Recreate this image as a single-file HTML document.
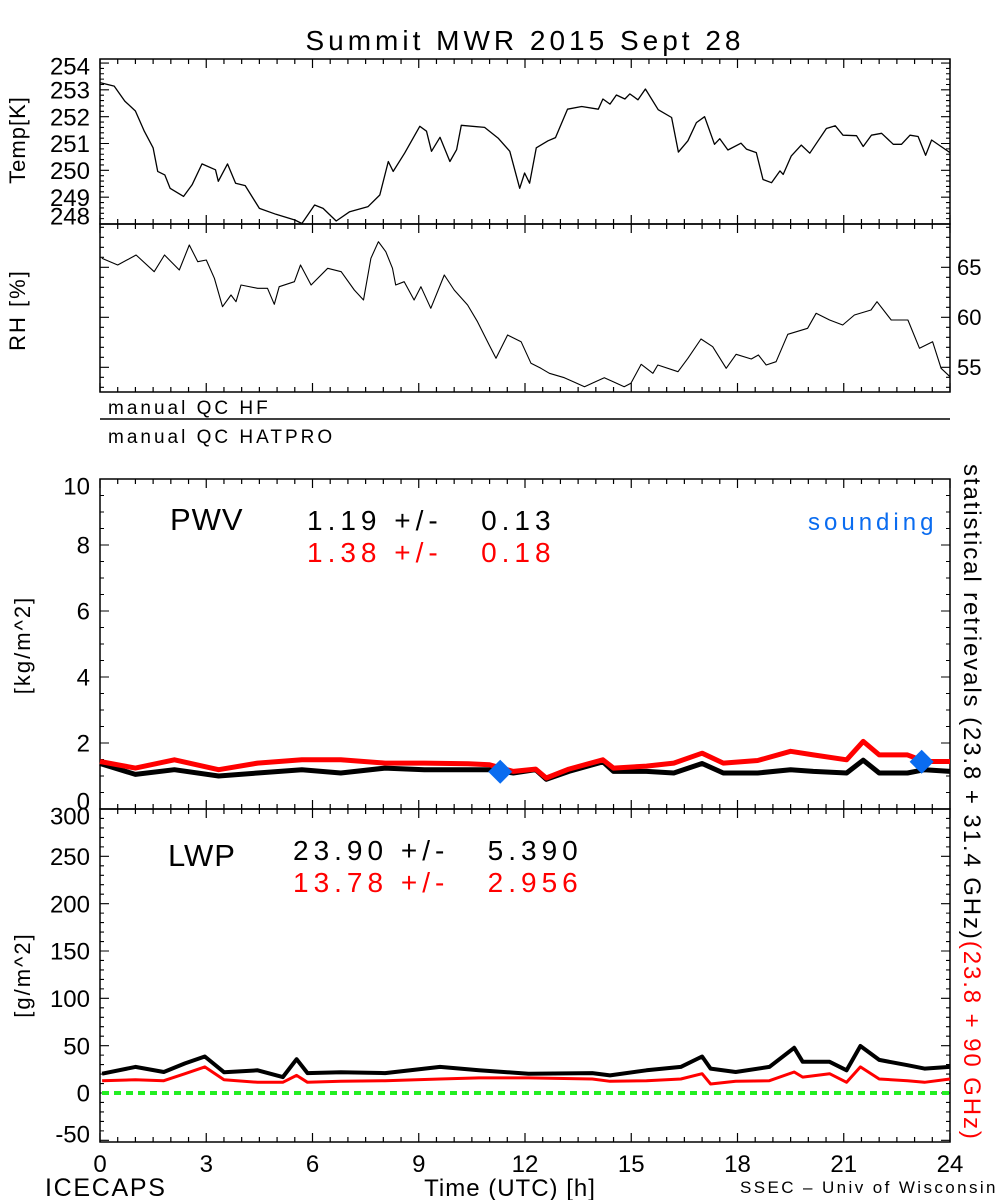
<!DOCTYPE html>
<html><head><meta charset="utf-8"><style>
html,body{margin:0;padding:0;background:#fff;}
svg{display:block;font-family:"Liberation Sans",sans-serif;}
</style></head><body>
<svg id="chart" width="1000" height="1200" viewBox="0 0 1000 1200" xmlns="http://www.w3.org/2000/svg">
<rect x="0" y="0" width="1000" height="1200" fill="#fff"/>
<text x="525" y="50" font-size="28" letter-spacing="4" text-anchor="middle">Summit MWR 2015 Sept 28</text>
<g id="axes"></g>
<g id="marks"></g>
<text transform="translate(25,140) rotate(-90)" font-size="22" letter-spacing="1" text-anchor="middle">Temp[K]</text>
<text transform="translate(25,310) rotate(-90)" font-size="22" letter-spacing="2" text-anchor="middle">RH [%]</text>
<text x="108" y="414" font-size="19" letter-spacing="3">manual QC HF</text>
<line x1="100" y1="419" x2="950" y2="419" stroke="#000" stroke-width="1.5"/>
<text x="108" y="443" font-size="19" letter-spacing="3">manual QC HATPRO</text>
<text transform="translate(30,645) rotate(-90)" font-size="22" letter-spacing="2" text-anchor="middle">[kg/m^2]</text>
<text transform="translate(30,975) rotate(-90)" font-size="22" letter-spacing="2" text-anchor="middle">[g/m^2]</text>
<text x="170" y="530" font-size="31" letter-spacing="1">PWV</text>
<text x="307" y="530" font-size="28" letter-spacing="5" xml:space="preserve">1.19 +/-   0.13</text>
<text x="307" y="562" font-size="28" letter-spacing="5" fill="#ff0000" xml:space="preserve">1.38 +/-   0.18</text>
<text x="808" y="530" font-size="24" letter-spacing="4" fill="#0a6cf0">sounding</text>
<text x="168" y="866" font-size="31" letter-spacing="1">LWP</text>
<text x="293" y="860" font-size="28" letter-spacing="5" xml:space="preserve">23.90 +/-   5.390</text>
<text x="293" y="892" font-size="28" letter-spacing="5" fill="#ff0000" xml:space="preserve">13.78 +/-   2.956</text>
<text transform="translate(964,464) rotate(90)" font-size="24" letter-spacing="1.9"><tspan>statistical retrievals (23.8 + 31.4 GHz)</tspan><tspan fill="#ff0000">(23.8 + 90 GHz)</tspan></text>
<text x="45" y="1196" font-size="25" letter-spacing="1.7">ICECAPS</text>
<text x="510" y="1196" font-size="24" letter-spacing="1" text-anchor="middle">Time (UTC) [h]</text>
<text x="740" y="1193" font-size="17" letter-spacing="2.4">SSEC – Univ of Wisconsin</text>
</svg>
<script>
const xTicks=[0,3,6,9,12,15,18,21,24];
const tempTicks=[254,253,252,251,250,249,248];
const rhTicks=[65,60,55];
const pwvTicks=[10,8,6,4,2,0];
const lwpTicks=[300,250,200,150,100,50,0,-50];

const tempH=[0,0.4,0.7,1.0,1.25,1.5,1.63,1.83,1.98,2.36,2.6,2.88,3.26,3.34,3.6,3.83,4.1,4.5,4.97,5.5,5.7,6.06,6.3,6.67,7.05,7.57,7.9,8.14,8.28,8.6,9.03,9.22,9.36,9.6,9.88,10.07,10.2,10.86,11.24,11.57,11.85,11.99,12.13,12.32,12.65,12.86,13.2,13.6,14.07,14.2,14.4,14.58,14.82,14.96,15.19,15.4,15.76,16.14,16.33,16.6,16.84,17.07,17.35,17.5,17.73,18.1,18.25,18.53,18.72,18.96,19.2,19.29,19.52,19.8,20.04,20.23,20.51,20.76,20.98,21.36,21.55,21.78,22.07,22.4,22.63,22.87,23.1,23.31,23.48,24];
const tempV=[253.27,253.14,252.58,252.21,251.46,250.84,249.96,249.83,249.33,249.03,249.46,250.24,250.02,249.59,250.24,249.52,249.43,248.58,248.36,248.15,248.02,248.71,248.58,248.11,248.46,248.65,249.08,250.33,249.96,250.64,251.64,251.46,250.71,251.23,250.33,250.77,251.68,251.6,251.2,250.71,249.33,249.9,249.52,250.84,251.1,251.22,252.28,252.38,252.28,252.66,252.47,252.81,252.66,252.85,252.63,253.03,252.26,251.97,250.68,251.1,251.78,252.0,250.97,251.18,250.76,251.01,250.79,250.66,249.66,249.54,249.98,249.85,250.54,250.94,250.64,251.01,251.56,251.66,251.31,251.29,250.89,251.31,251.38,250.97,250.97,251.31,251.26,250.56,251.13,250.66];

const rhH=[0.05,0.5,1.02,1.53,1.82,2.24,2.52,2.76,3.0,3.23,3.46,3.7,3.84,3.98,4.45,4.73,4.92,5.06,5.49,5.66,5.96,6.43,6.81,7.18,7.44,7.65,7.86,8.07,8.26,8.35,8.59,8.87,9.06,9.34,9.72,10.0,10.38,10.66,10.99,11.18,11.51,11.89,12.17,12.45,12.69,13.11,13.68,14.24,14.8,14.99,15.28,15.61,15.75,16.32,16.6,16.97,17.3,17.68,17.96,18.39,18.59,18.81,19.09,19.42,19.98,20.22,20.6,20.97,21.3,21.77,21.94,22.34,22.81,23.14,23.51,23.75,24];
const rhV=[65.9,65.23,66.23,64.56,66.23,64.73,67.23,65.56,65.73,63.9,61.06,62.23,61.56,63.23,62.9,62.9,61.3,63.06,63.56,65.23,63.23,64.9,64.56,62.73,61.73,65.9,67.56,66.56,64.9,63.23,63.56,61.73,63.06,60.9,64.23,62.73,61.23,59.56,57.23,55.9,58.23,57.56,55.4,54.9,54.4,53.96,53.06,53.96,53.06,53.4,55.3,54.4,55.23,54.56,55.9,57.83,57.06,54.9,56.3,55.83,56.23,55.23,55.56,58.3,58.9,60.4,59.73,59.23,60.23,60.73,61.56,59.73,59.73,56.9,57.56,54.9,54.06];

const pwvH=[0,1.0,2.1,3.35,4.45,5.7,6.8,8.05,9.16,10.4,11.0,11.67,12.3,12.6,13.24,14.2,14.5,15.43,16.2,17.0,17.6,18.57,19.5,20.14,21.08,21.55,22.0,22.8,23.28,24];
const pwvRed=[1.44,1.24,1.49,1.19,1.39,1.49,1.49,1.39,1.39,1.37,1.34,1.14,1.21,0.94,1.21,1.49,1.24,1.30,1.39,1.69,1.39,1.47,1.75,1.64,1.49,2.05,1.64,1.64,1.44,1.44];
const pwvBlack=[1.38,1.05,1.19,1.0,1.09,1.19,1.09,1.24,1.19,1.19,1.19,1.09,1.19,0.9,1.14,1.43,1.14,1.14,1.09,1.38,1.09,1.09,1.19,1.14,1.09,1.48,1.09,1.09,1.19,1.14];
const soundH=[11.3,23.2];
const soundV=[1.13,1.43];

const lwpH=[0.06,1.0,1.8,2.4,2.96,3.5,4.45,5.16,5.55,5.86,6.8,8.05,9.6,10.7,12.1,13.9,14.4,15.43,16.4,17.0,17.24,17.95,18.9,19.6,19.84,20.6,21.08,21.47,22.0,22.8,23.28,24];
const lwpBlack=[20.4,27.6,22.2,31.3,38.6,22,24,16.8,35.7,21,22,21,27.6,24,20.4,21,18.6,24,27.6,38.6,25.8,22.2,27.6,47.7,33,33,24,49.6,35,29.4,25.8,27.6];
const lwpRed=[13,13.9,13,20.4,27.6,13.9,11.3,11.3,18.6,11.3,12.4,13,14.8,16,16,14.8,12.4,13,14.8,20.4,9.5,12.4,13,22.2,16.8,20.4,11.3,27.6,14.8,13,11.3,14.8];

const NS='http://www.w3.org/2000/svg';
const axes=document.getElementById('axes');
const marks=document.getElementById('marks');
const X0=100,X1=950;
function xs(h){return X0+(X1-X0)*h/24;}
function lin(d0,d1,r0,r1){return v=>r0+(r1-r0)*(v-d0)/(d1-d0);}
const panels={
 temp:{y0:59,y1:224,s:lin(248,254.15,224,59)},
 rh:{y0:224,y1:392,s:lin(60,65,317.3,267.3)},
 pwv:{y0:479,y1:809,s:lin(0,10,809,479)},
 lwp:{y0:809,y1:1142,s:lin(0,300,1093,809)}
};
function mk(tag,attrs,parent){const e=document.createElementNS(NS,tag);for(const k in attrs)e.setAttribute(k,attrs[k]);parent.appendChild(e);return e;}
function frame(p,name){
 const r=mk('rect',{x:X0,y:p.y0,width:X1-X0,height:p.y1-p.y0,fill:'none',stroke:'#000','stroke-width':1.5},axes);
 
 
 let d='';
 for(let h=0;h<=24.001;h+=0.5){const x=xs(h);const L=(Math.abs(h%3)<0.01)?9:5;
  d+=`M${x},${p.y1}v${-L}M${x},${p.y0}v${L}`;}
 const t=mk('path',{d:d,stroke:'#000','stroke-width':1.2,fill:'none'},axes);
 
 
}
function yTicks(p,name,lo,hi,minor,major){
 let d='';
 for(let v=lo;v<=hi+1e-6;v+=minor){const y=p.s(v);if(y<p.y0-0.5||y>p.y1+0.5)continue;
  const isM=Math.abs((v/major)-Math.round(v/major))<1e-4;const L=isM?9:4;
  d+=`M${X0},${y}h${L}M${X1},${y}h${-L}`;}
 const t=mk('path',{d:d,stroke:'#000','stroke-width':1.1,fill:'none'},axes);
 
 
}
function yLabels(p,name,ticks,x,anchor,fs){
 ticks.forEach(v=>{let c=Math.min(Math.max(p.s(v),p.y0+7),p.y1-8);let y=c+fs*0.36;
  const t=mk('text',{x:x,y:y,'font-size':fs,'text-anchor':anchor},axes);t.textContent=String(v);
  
  });
}
frame(panels.temp,'temp');frame(panels.rh,'rh');frame(panels.pwv,'pwv');frame(panels.lwp,'lwp');
yTicks(panels.temp,'temp',248,254.15,0.2,1);
yTicks(panels.rh,'rh',53,69,1,5);
yTicks(panels.pwv,'pwv',0,10,0.5,2);
yTicks(panels.lwp,'lwp',-50,300,10,50);
yLabels(panels.temp,'temp',tempTicks,90,'end',24);
yLabels(panels.rh,'rh',rhTicks,957,'start',22);
yLabels(panels.pwv,'pwv',pwvTicks,90,'end',24);
yLabels(panels.lwp,'lwp',lwpTicks,90,'end',24);
xTicks.forEach(h=>{const t=mk('text',{x:xs(h),y:1172,'font-size':24,'text-anchor':'middle'},axes);t.textContent=String(h);
 
 });
function line(H,V,p,color,w,name){
 const d=H.map((h,i)=>(i?'L':'M')+xs(h).toFixed(1)+','+p.s(V[i]).toFixed(1)).join('');
 const e=mk('path',{d:d,stroke:color,'stroke-width':w,fill:'none','stroke-linejoin':'round'},marks);
 
 
}
line(tempH,tempV,panels.temp,'#000',1.3,'temp-line');
line(rhH,rhV,panels.rh,'#000',1.1,'rh-line');
line(pwvH,pwvBlack,panels.pwv,'#000',5,'pwv-black-line');
line(pwvH,pwvRed,panels.pwv,'#ff0000',5,'pwv-red-line');
soundH.forEach((h,i)=>{const x=xs(h),y=panels.pwv.s(soundV[i]);
 const e=mk('path',{d:`M${x},${y-12}L${x+12},${y}L${x},${y+12}L${x-12},${y}Z`,fill:'#0a6cf0'},marks);
 
 });
const z=panels.lwp.s(0);
const g=mk('line',{x1:X0+2,y1:z,x2:X1,y2:z,stroke:'#22ee22','stroke-width':4,'stroke-dasharray':'7,5'},marks);


line(lwpH,lwpBlack,panels.lwp,'#000',4,'lwp-black-line');
line(lwpH,lwpRed,panels.lwp,'#ff0000',3,'lwp-red-line');
</script>
</body></html>
